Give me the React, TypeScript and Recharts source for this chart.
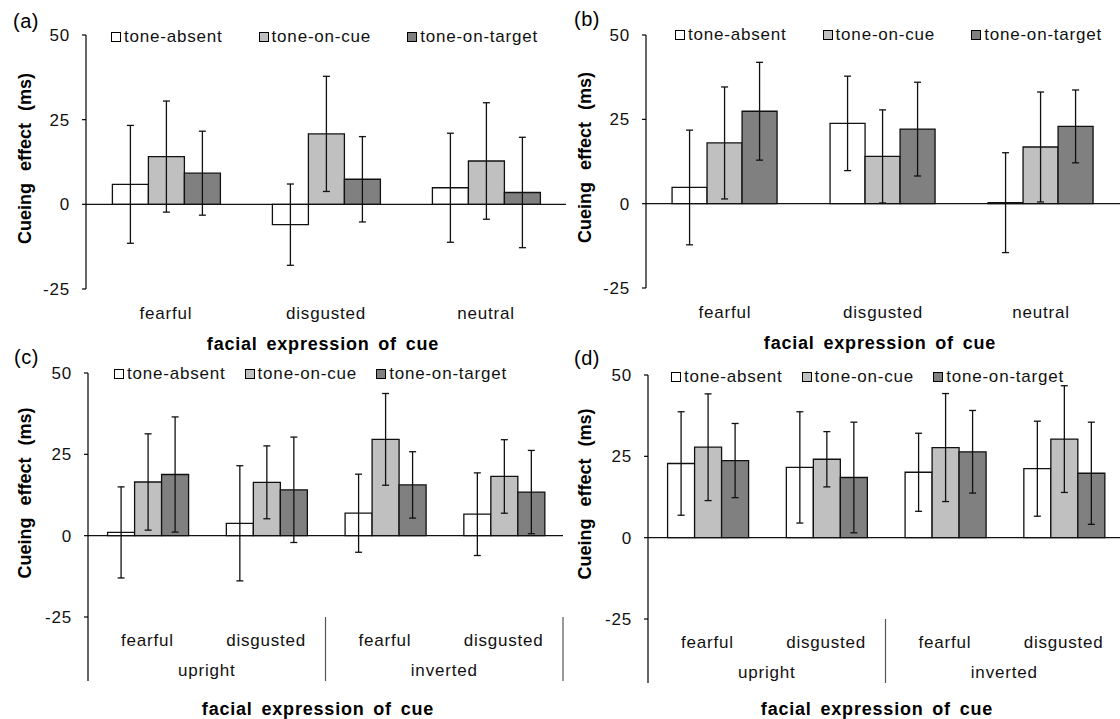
import React from "react";
import { BarChart, Bar, XAxis, YAxis, ErrorBar, ReferenceLine, Legend } from "recharts";

const seriesNames = ["tone-absent", "tone-on-cue", "tone-on-target"];
const seriesColors = ["#ffffff", "#c0c0c0", "#808080"];
const yTicks = [-25, 0, 25, 50];

// (a) and (b): three expressions
const exprAB = ["fearful", "disgusted", "neutral"];

const absentA = [5.9, -6.0, 4.9];
const absentErrA = [17.4, 12.0, 16.1];
const onCueA = [14.1, 20.8, 12.8];
const onCueErrA = [16.4, 17.0, 17.2];
const onTargetA = [9.2, 7.4, 3.5];
const onTargetErrA = [12.4, 12.6, 16.3];

const absentB = [4.8, 23.8, 0.3];
const absentErrB = [17.0, 14.0, 14.8];
const onCueB = [18.0, 14.0, 16.8];
const onCueErrB = [16.6, 13.8, 16.3];
const onTargetB = [27.4, 22.1, 22.9];
const onTargetErrB = [14.5, 13.9, 10.8];

// (c) and (d): expression x orientation
const exprCD = ["fearful", "disgusted", "fearful", "disgusted"];
const groupsCD = ["upright", "inverted"];

const absentC = [1.0, 3.8, 6.9, 6.6];
const absentErrC = [14.0, 17.7, 12.0, 12.7];
const onCueC = [16.5, 16.4, 29.6, 18.2];
const onCueErrC = [14.8, 11.2, 14.1, 11.3];
const onTargetC = [18.8, 14.1, 15.6, 13.4];
const onTargetErrC = [17.7, 16.2, 10.2, 12.8];

const absentD = [22.8, 21.6, 20.1, 21.2];
const absentErrD = [15.9, 17.1, 12.0, 14.6];
const onCueD = [27.8, 24.1, 27.7, 30.3];
const onCueErrD = [16.4, 8.5, 16.6, 16.4];
const onTargetD = [23.7, 18.5, 26.4, 19.8];
const onTargetErrD = [11.4, 17.0, 12.7, 15.7];

function buildRows(
  expr: string[],
  absent: number[],
  absentErr: number[],
  cue: number[],
  cueErr: number[],
  target: number[],
  targetErr: number[]
) {
  return expr.map((e, i) => ({
    id: `${i}-${e}`,
    absent: absent[i],
    absentErr: absentErr[i],
    cue: cue[i],
    cueErr: cueErr[i],
    target: target[i],
    targetErr: targetErr[i],
  }));
}

const FONT = '"Liberation Sans", Arial, sans-serif';
const TXT = "#111";

function LegendRow({ payload, gap }: any) {
  return (
    <div style={{ display: "flex", alignItems: "center", columnGap: gap, whiteSpace: "nowrap" }}>
      {(payload || []).map((p: any, i: number) => (
        <span key={p.value} style={{ display: "flex", alignItems: "center" }}>
          <span
            style={{
              width: 8,
              height: 8,
              border: "1px solid #000",
              background: seriesColors[i],
              marginRight: 3,
            }}
          />
          <span style={{ fontSize: 17, letterSpacing: 0.8, color: TXT, lineHeight: "20px" }}>{p.value}</span>
        </span>
      ))}
    </div>
  );
}

function CategoryTick(props: any) {
  const { x, index, expr, groups, band, labelY, groupY, sepTop, sepBottom } = props;
  const last = expr.length - 1;
  return (
    <g>
      <text x={x} y={labelY} textAnchor="middle" dominantBaseline="central" fontSize={17} letterSpacing={0.8} fill={TXT}>
        {expr[index]}
      </text>
      {groups && index % 2 === 0 && (
        <line x1={x - band / 2} x2={x - band / 2} y1={sepTop} y2={sepBottom} stroke={index === 0 ? "#000" : "#555"} strokeWidth={1.2} />
      )}
      {groups && index % 2 === 1 && (
        <text x={x - band / 2} y={groupY} textAnchor="middle" dominantBaseline="central" fontSize={17} letterSpacing={0.8} fill={TXT}>
          {groups[(index - 1) / 2]}
        </text>
      )}
      {groups && index === last && (
        <line x1={x + band / 2} x2={x + band / 2} y1={sepTop} y2={sepBottom} stroke="#555" strokeWidth={1.2} />
      )}
    </g>
  );
}

function YTitle({ cx, cy }: any) {
  return (
    <text
      x={cx}
      y={cy}
      transform={`rotate(-90 ${cx} ${cy})`}
      textAnchor="middle"
      dominantBaseline="central"
      fontWeight="bold"
      fontSize={18}
      fill="#000"
      style={{ wordSpacing: 7 }}
    >
      Cueing effect (ms)
    </text>
  );
}

function XTitle({ cx, cy }: any) {
  return (
    <text
      x={cx}
      y={cy}
      textAnchor="middle"
      dominantBaseline="central"
      fontWeight="bold"
      fontSize={18}
      fill="#000"
      letterSpacing={0.8}
      style={{ wordSpacing: 3 }}
    >
      facial expression of cue
    </text>
  );
}

function Panel(p: any) {
  const plotW = p.width - p.margin.left - 60 - p.margin.right;
  const band = plotW / p.rows.length;
  return (
    <div style={{ position: "absolute", left: p.left, top: p.top }}>
      <BarChart width={p.width} height={p.height} data={p.rows} margin={p.margin} barCategoryGap="16.5%" barGap={0}>
        <XAxis
          dataKey="id"
          type="category"
          axisLine={false}
          tickLine={false}
          interval={0}
          height={30}
          tick={(tp: any) => (
            <CategoryTick
              {...tp}
              expr={p.expr}
              groups={p.groups}
              band={band}
              labelY={p.labelY}
              groupY={p.groupY}
              sepTop={p.sepTop}
              sepBottom={p.sepBottom}
            />
          )}
          label={<XTitle cx={p.xTitle[0]} cy={p.xTitle[1]} />}
        />
        <YAxis
          type="number"
          domain={[-25, 50]}
          ticks={yTicks}
          interval={0}
          allowDataOverflow
          width={60}
          tickSize={4}
          tickMargin={12}
          axisLine={{ stroke: "#000", strokeWidth: 1.2 }}
          tickLine={{ stroke: "#000", strokeWidth: 1.2 }}
          tick={{ fontSize: 17, fill: TXT, letterSpacing: 0.8 }}
          label={<YTitle cx={p.yTitle[0]} cy={p.yTitle[1]} />}
        />
        <Legend
          layout="horizontal"
          verticalAlign="middle"
          align="center"
          wrapperStyle={{ left: p.legend[0], top: p.legend[1], width: "auto" }}
          content={(lp: any) => <LegendRow payload={lp.payload} gap={p.legend[2]} />}
        />
        <ReferenceLine y={0} stroke="#111" strokeWidth={1.2} />
        <Bar dataKey="absent" name={seriesNames[0]} fill={seriesColors[0]} stroke="#111" strokeWidth={1.3} isAnimationActive={false}>
          <ErrorBar dataKey="absentErr" width={3.5} stroke="#111" strokeWidth={1.3} isAnimationActive={false} />
        </Bar>
        <Bar dataKey="cue" name={seriesNames[1]} fill={seriesColors[1]} stroke="#111" strokeWidth={1.3} isAnimationActive={false}>
          <ErrorBar dataKey="cueErr" width={3.5} stroke="#111" strokeWidth={1.3} isAnimationActive={false} />
        </Bar>
        <Bar dataKey="target" name={seriesNames[2]} fill={seriesColors[2]} stroke="#111" strokeWidth={1.3} isAnimationActive={false}>
          <ErrorBar dataKey="targetErr" width={3.5} stroke="#111" strokeWidth={1.3} isAnimationActive={false} />
        </Bar>
      </BarChart>
    </div>
  );
}

function Letter({ x, y, children }: any) {
  return (
    <div style={{ position: "absolute", left: x, top: y, fontSize: 20, lineHeight: "20px", letterSpacing: 0.5, color: "#000" }}>
      {children}
    </div>
  );
}

export default function App() {
  const rowsA = buildRows(exprAB, absentA, absentErrA, onCueA, onCueErrA, onTargetA, onTargetErrA);
  const rowsB = buildRows(exprAB, absentB, absentErrB, onCueB, onCueErrB, onTargetB, onTargetErrB);
  const rowsC = buildRows(exprCD, absentC, absentErrC, onCueC, onCueErrC, onTargetC, onTargetErrC);
  const rowsD = buildRows(exprCD, absentD, absentErrD, onCueD, onCueErrD, onTargetD, onTargetErrD);

  return (
    <div
      style={{
        position: "absolute",
        left: 0,
        top: 0,
        width: 1120,
        height: 719,
        overflow: "hidden",
        background: "#fff",
        fontFamily: FONT,
      }}
    >
      <Panel
        left={0}
        top={0}
        width={580}
        height={355}
        margin={{ top: 35, right: 14, bottom: 36, left: 26 }}
        rows={rowsA}
        expr={exprAB}
        labelY={313}
        xTitle={[323, 343.5]}
        yTitle={[25, 158.5]}
        legend={[111, 27, 36]}
      />
      <Panel
        left={560}
        top={0}
        width={580}
        height={355}
        margin={{ top: 35, right: 20, bottom: 37, left: 26 }}
        rows={rowsB}
        expr={exprAB}
        labelY={312}
        xTitle={[320, 343]}
        yTitle={[25, 157.5]}
        legend={[115, 25, 36]}
      />
      <Panel
        left={0}
        top={355}
        width={580}
        height={364}
        margin={{ top: 18, right: 17, bottom: 72, left: 28 }}
        rows={rowsC}
        expr={exprCD}
        groups={groupsCD}
        labelY={285}
        groupY={315}
        sepTop={262}
        sepBottom={326}
        xTitle={[318, 353.5]}
        yTitle={[25, 138]}
        legend={[114, 9, 19]}
      />
      <Panel
        left={560}
        top={355}
        width={580}
        height={364}
        margin={{ top: 20, right: 17, bottom: 70, left: 28 }}
        rows={rowsD}
        expr={exprCD}
        groups={groupsCD}
        labelY={287}
        groupY={317}
        sepTop={264}
        sepBottom={328}
        xTitle={[317, 354]}
        yTitle={[25, 139]}
        legend={[111, 12, 19]}
      />
      <Letter x={13} y={11}>(a)</Letter>
      <Letter x={574} y={9}>(b)</Letter>
      <Letter x={14} y={347}>(c)</Letter>
      <Letter x={574} y={348}>(d)</Letter>
    </div>
  );
}
